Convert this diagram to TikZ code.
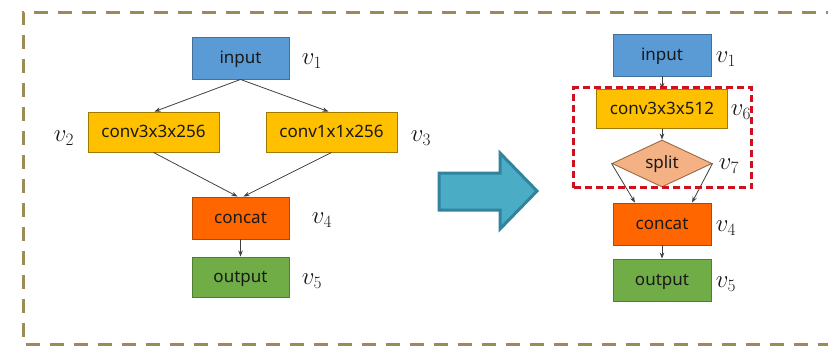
\documentclass[tikz,border=0pt]{standalone}
\usepackage{fontspec}
\setmainfont{Noto Sans}
\usetikzlibrary{shapes.geometric,arrows.meta}
\definecolor{olivedash}{HTML}{9C8B57}
\definecolor{inblue}{HTML}{5B9BD5}
\definecolor{inbluedk}{HTML}{41719C}
\definecolor{convy}{HTML}{FFC000}
\definecolor{convydk}{HTML}{A07A00}
\definecolor{catorange}{HTML}{FF6600}
\definecolor{catorangedk}{HTML}{B04A00}
\definecolor{outgreen}{HTML}{70AD47}
\definecolor{outgreendk}{HTML}{507E32}
\definecolor{splitfill}{HTML}{F4B183}
\definecolor{splitdk}{HTML}{9C6A45}
\definecolor{bigarrow}{HTML}{4BACC6}
\definecolor{bigarrowdk}{HTML}{31849B}
\definecolor{reddash}{HTML}{D0101E}
\tikzset{
  box/.style={draw, line width=0.9pt, inner sep=0pt, font=\fontsize{17}{17}\selectfont, text=black!90, text height=11pt, text depth=1pt},
  inbox/.style={box, fill=inblue, draw=inbluedk},
  convbox/.style={box, fill=convy, draw=convydk},
  catbox/.style={box, fill=catorange, draw=catorangedk},
  outbox/.style={box, fill=outgreen, draw=outgreendk},
  splitbox/.style={diamond, draw=splitdk, fill=splitfill, line width=0.9pt, inner sep=0pt, aspect=2.1, font=\fontsize{17}{17}\selectfont, text=black!90, text height=11pt, text depth=1pt},
  vlab/.style={font=\fontsize{23}{23}\selectfont, text=black!90},
  conn/.style={draw=black!75, line width=0.8pt, -{Stealth[length=6pt,width=4.5pt]}}
}
\begin{document}
\begin{tikzpicture}[x=1pt,y=-1pt]
\useasboundingbox (0,0) rectangle (828,346);
% outer dashed frame
\draw[olivedash, line width=3pt, dash pattern=on 14pt off 10pt] (840,12) -- (23,12) -- (23,344) -- (840,344);
% left graph
\node[inbox, minimum width=97pt, minimum height=42pt] (in1) at (240.5,58) {input};
\node[convbox, minimum width=131pt, minimum height=40pt] (c3) at (153.5,132) {conv3x3x256};
\node[convbox, minimum width=131pt, minimum height=40pt] (c1) at (331.5,132) {conv1x1x256};
\node[catbox, minimum width=97pt, minimum height=42pt] (cat1) at (240.5,218) {concat};
\node[outbox, minimum width=97pt, minimum height=40pt] (out1) at (240.5,277) {output};
\node[vlab] (l1) at (312,61) {$v_1$};
\node[vlab] (l2) at (64,138) {$v_2$};
\node[vlab] (l3) at (421,138) {$v_3$};
\node[vlab] (l4) at (322,220) {$v_4$};
\node[vlab] (l5) at (312,281) {$v_5$};
\draw[conn] (in1.south) -- ([xshift=1pt]c3.north);
\draw[conn] (in1.south) -- ([xshift=-3pt]c1.north);
\draw[conn] (c3.south) -- ([xshift=-3pt]cat1.north);
\draw[conn] (c1.south) -- ([xshift=3pt]cat1.north);
\draw[conn] (cat1.south) -- (out1.north);
% big arrow
\draw[bigarrowdk, fill=bigarrow, line width=3pt, line join=miter]
  (439,173) -- (500,173) -- (500,153) -- (537,191) -- (500,229) -- (500,210) -- (439,210) -- cycle;
% right graph
\node[inbox, minimum width=98pt, minimum height=42pt] (in2) at (662,55) {input};
\node[convbox, minimum width=131pt, minimum height=39pt] (c6) at (662,109) {conv3x3x512};
\node[splitbox, minimum width=100pt, minimum height=47pt] (sp) at (662,163.5) {split};
\node[catbox, minimum width=98pt, minimum height=42pt] (cat2) at (662,224) {concat};
\node[outbox, minimum width=98pt, minimum height=42pt] (out2) at (662,280) {output};
\node[vlab] (r1) at (726,59) {$v_1$};
\node[vlab] (r6) at (741,112) {$v_6$};
\node[vlab] (r7) at (729,166) {$v_7$};
\node[vlab] (r4) at (726,228) {$v_4$};
\node[vlab] (r5) at (726,284) {$v_5$};
\draw[conn] (in2.south) -- (c6.north);
\draw[conn] (c6.south) -- (sp.north);
\draw[conn] (sp.west) -- ([xshift=-27pt]cat2.north);
\draw[conn] (sp.east) -- ([xshift=30pt]cat2.north);
\draw[conn] (cat2.south) -- (out2.north);
% red dashed group
\node[draw=reddash, line width=2.2pt, dash pattern=on 7pt off 4pt, minimum width=178pt, minimum height=100pt, inner sep=0pt] (grp) at (662.5,137.5) {};
\end{tikzpicture}
\end{document}
